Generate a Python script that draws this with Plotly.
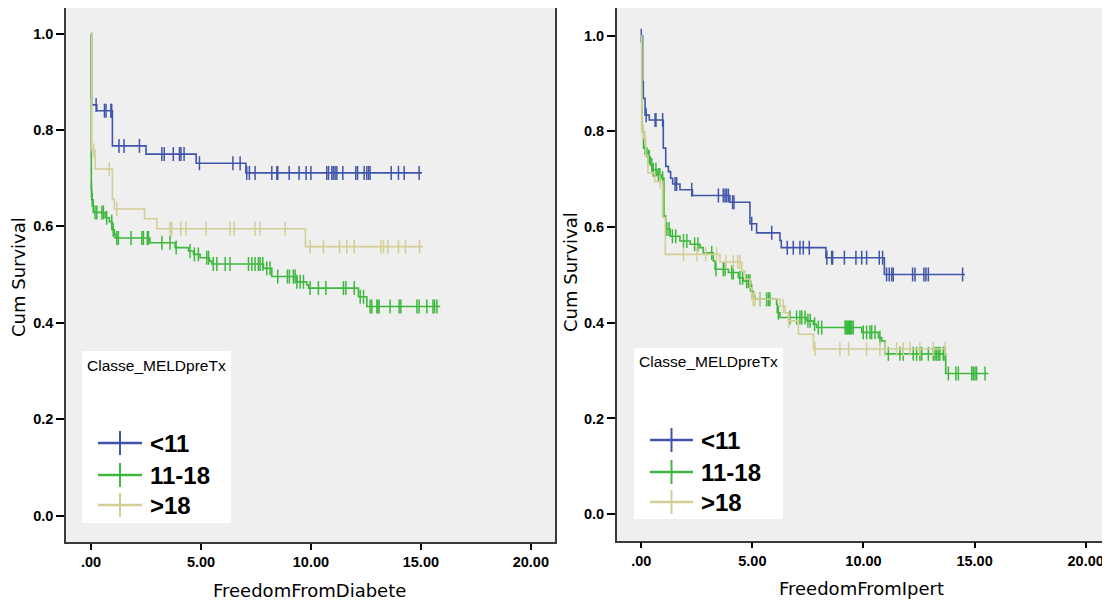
import plotly.graph_objects as go

# page body adds an 8px margin; the figure is sized and positioned to compensate
OFF = 8
W, H = 1110 - OFF, 602 - OFF

# ---------------- data ----------------
series_names = ["<11", "11-18", ">18"]
series_colors = ["#4055AA", "#3CB93C", "#D3CE96"]

# Left panel: FreedomFromDiabete  (event times / survival after step, end of follow-up, censor times)
diab_lt11_t = [0, 0.02, 0.03, 0.26, 0.97, 2.50, 4.78, 7.04]
diab_lt11_s = [1.0, 0.866, 0.852, 0.840, 0.767, 0.750, 0.731, 0.711]
diab_lt11_end = 15.05
diab_lt11_c = [0.23, 0.61, 0.68, 0.90, 0.94, 1.27, 1.50, 2.20, 3.22, 3.33, 3.74, 4.02, 4.09, 4.23,
               4.93, 6.45, 6.78, 7.08, 7.20, 7.46, 8.22, 8.45, 8.49, 9.01, 9.46, 9.78, 10.0,
               10.72, 10.80, 10.95, 11.02, 11.10, 11.18, 11.45, 12.04, 12.12, 12.42, 12.54,
               12.62, 12.69, 13.65, 13.98, 14.24, 14.92]

diab_1118_t = [0, 0.01, 0.03, 0.10, 0.64, 0.83, 0.95, 1.06, 1.09, 2.68, 3.82, 4.43, 4.66, 4.96,
               5.38, 5.49, 7.84, 8.22, 9.36, 9.81, 9.89, 12.16, 12.54]
diab_1118_s = [1.0, 0.676, 0.655, 0.629, 0.618, 0.610, 0.593, 0.584, 0.576, 0.566, 0.556, 0.549,
               0.542, 0.535, 0.528, 0.522, 0.513, 0.496, 0.485, 0.479, 0.472, 0.454, 0.434]
diab_1118_end = 15.88
diab_1118_c = [0.02, 0.05, 0.18, 0.26, 0.49, 0.56, 0.71, 0.94, 1.01, 1.17, 1.24, 1.82, 2.31, 2.38,
               2.56, 2.61, 3.22, 3.59, 3.87, 4.50, 4.70, 4.88, 5.26, 5.34, 5.56, 5.72, 6.10, 6.32,
               7.16, 7.31, 7.46, 7.61, 7.69, 7.81, 7.99, 8.14, 8.49, 8.93, 9.02, 9.20, 9.28, 9.36,
               9.51, 9.66, 9.96, 10.34, 10.68, 11.48, 11.59, 11.97, 12.24, 12.39, 12.69, 12.77,
               13.00, 13.04, 13.10, 13.60, 14.01, 14.09, 14.82, 14.92, 15.27, 15.55, 15.62, 15.73]

diab_gt18_t = [0, 0.03, 0.18, 0.97, 1.06, 2.43, 2.99, 9.75]
diab_gt18_s = [1.0, 0.758, 0.719, 0.656, 0.636, 0.616, 0.595, 0.558]
diab_gt18_end = 15.09
diab_gt18_c = [0.12, 0.83, 1.17, 3.59, 3.67, 4.08, 4.32, 5.23, 6.32, 6.51, 7.46, 7.69, 8.83,
               9.96, 10.57, 11.30, 11.63, 11.97, 13.18, 13.30, 13.50, 13.98, 14.30, 14.94]

# Right panel: FreedomFromIpert
ipert_lt11_t = [0, 0.06, 0.09, 0.17, 0.36, 0.99, 1.10, 1.22, 1.32, 1.41, 1.74, 2.30, 3.99,
                4.89, 5.19, 6.24, 6.30, 8.31, 10.94]
ipert_lt11_s = [1.0, 0.904, 0.869, 0.834, 0.824, 0.765, 0.727, 0.716, 0.702, 0.690, 0.678,
                0.666, 0.652, 0.607, 0.588, 0.572, 0.557, 0.536, 0.501]
ipert_lt11_end = 14.57
ipert_lt11_c = [0.0, 0.22, 0.62, 0.66, 0.96, 1.52, 1.59, 2.27, 3.47, 3.69, 3.77, 3.84, 3.92,
                4.11, 4.17, 4.97, 5.87, 6.57, 6.84, 7.14, 7.29, 7.56, 8.35, 8.57, 8.61, 9.14,
                9.66, 9.92, 10.14, 10.71, 10.86, 11.04, 11.16, 11.27, 11.34, 12.21, 12.32,
                12.72, 12.81, 12.92, 14.46]

ipert_1118_t = [0, 0.02, 0.10, 0.25, 0.40, 0.50, 0.70, 0.90, 1.02, 1.10, 1.30, 1.74, 2.20,
                2.64, 2.79, 3.24, 3.32, 3.92, 4.37, 4.59, 4.92, 5.04, 5.12, 6.09, 6.12, 6.24,
                7.44, 7.74, 7.89, 9.92, 10.67, 10.82, 10.97, 13.70]
ipert_1118_s = [1.0, 0.800, 0.765, 0.747, 0.730, 0.720, 0.709, 0.702, 0.623, 0.596, 0.581,
                0.571, 0.564, 0.557, 0.546, 0.529, 0.512, 0.505, 0.494, 0.487, 0.466, 0.456,
                0.449, 0.439, 0.421, 0.411, 0.404, 0.397, 0.390, 0.380, 0.369, 0.362, 0.335,
                0.294]
ipert_1118_end = 15.62
ipert_1118_c = [0.17, 0.31, 0.36, 0.47, 0.54, 0.66, 0.77, 0.84, 0.96, 1.15, 1.25, 1.40, 1.55,
                1.90, 2.05, 2.40, 2.55, 3.17, 3.36, 3.69, 3.77, 4.07, 4.14, 4.44, 4.56, 4.74,
                4.82, 4.89, 4.97, 5.34, 5.64, 5.72, 5.79, 6.17, 6.69, 6.99, 7.14, 7.22, 7.37,
                7.50, 7.60, 7.80, 7.97, 8.12, 9.17, 9.22, 9.27, 9.32, 9.37, 9.42, 9.47, 9.54,
                9.99, 10.14, 10.29, 10.37, 10.52, 10.74, 11.12, 11.64, 11.79, 12.24, 12.39,
                12.54, 12.62, 12.92, 13.14, 13.22, 13.29, 13.37, 13.44, 13.59, 13.67, 13.82,
                14.16, 14.27, 14.87, 14.94, 15.02, 15.09, 15.47]

ipert_gt18_t = [0, 0.02, 0.13, 0.20, 0.30, 0.60, 0.96, 1.08, 3.54, 4.52, 4.67, 4.89, 4.97,
                6.24, 6.47, 6.62, 7.07, 7.75]
ipert_gt18_s = [1.0, 0.800, 0.786, 0.750, 0.713, 0.695, 0.620, 0.543, 0.527, 0.508, 0.491,
                0.473, 0.449, 0.435, 0.421, 0.404, 0.376, 0.345]
ipert_gt18_end = 13.74
ipert_gt18_c = [0.09, 0.17, 0.84, 1.90, 2.50, 2.90, 3.39, 3.81, 4.14, 4.34, 4.44, 5.04, 5.12,
                5.34, 6.39, 6.64, 7.82, 8.94, 9.33, 10.14, 10.74, 10.97, 11.49, 11.79, 12.09,
                12.54, 13.14, 13.67]

x_tickvals = [0, 5, 10, 15, 20]
x_ticktext = [".00", "5.00", "10.00", "15.00", "20.00"]
y_tickvals = [0.0, 0.2, 0.4, 0.6, 0.8, 1.0]
y_ticktext = ["0.0", "0.2", "0.4", "0.6", "0.8", "1.0"]

legend_title = "Classe_MELDpreTx"
y_title = "Cum Survival"
x_titles = ["FreedomFromDiabete", "FreedomFromIpert"]

# ---------------- helpers ----------------
def surv_at(ts, ss, c):
    v = ss[0]
    for t, s in zip(ts, ss):
        if t <= c:
            v = s
        else:
            break
    return v

def px(x):
    return (x - OFF) / W

def py(y):
    return 1 - (y - OFF) / H

fig = go.Figure()

panels = [
    ("x", "y", [(diab_lt11_t, diab_lt11_s, diab_lt11_end, diab_lt11_c),
                (diab_1118_t, diab_1118_s, diab_1118_end, diab_1118_c),
                (diab_gt18_t, diab_gt18_s, diab_gt18_end, diab_gt18_c)]),
    ("x2", "y2", [(ipert_lt11_t, ipert_lt11_s, ipert_lt11_end, ipert_lt11_c),
                  (ipert_1118_t, ipert_1118_s, ipert_1118_end, ipert_1118_c),
                  (ipert_gt18_t, ipert_gt18_s, ipert_gt18_end, ipert_gt18_c)]),
]

for xa, ya, groups in panels:
    for (ts, ss, end, cens), name, col in zip(groups, series_names, series_colors):
        fig.add_trace(go.Scatter(
            x=list(ts) + [end], y=list(ss) + [ss[-1]], mode="lines",
            line=dict(color=col, width=1.6, shape="hv"),
            xaxis=xa, yaxis=ya, name=name, showlegend=False, hoverinfo="skip"))
        fig.add_trace(go.Scatter(
            x=cens, y=[surv_at(ts, ss, c) for c in cens], mode="markers",
            marker=dict(symbol="line-ns-open", size=10, color=col,
                        line=dict(color=col, width=1.5)),
            xaxis=xa, yaxis=ya, name=name, showlegend=False, hoverinfo="skip"))

tickfont = dict(family="Liberation Sans, Arial", size=14.5, color="black", weight="bold")
axis_common = dict(showline=True, mirror=True, linecolor="#3a3a3a", linewidth=1.5,
                   showgrid=False, zeroline=False, ticks="outside", tickcolor="black",
                   tickwidth=1.5, tickfont=tickfont, automargin=False)

fig.update_layout(
    width=W, height=H,
    margin=dict(l=0, r=0, t=0, b=0, autoexpand=False),
    paper_bgcolor="white", plot_bgcolor="#EFEFEF",
    showlegend=False,
    xaxis=dict(domain=[px(66), px(555)], range=[-1.14, 21.1], anchor="y",
               tickvals=x_tickvals, ticktext=x_ticktext, ticklen=6, **axis_common),
    yaxis=dict(domain=[py(542), py(8)], range=[-0.0546, 1.053], anchor="x",
               tickvals=y_tickvals, ticktext=y_ticktext, ticklen=8, **axis_common),
    xaxis2=dict(domain=[px(616.7), min(1.0, px(1109))], range=[-1.107, 21.05], anchor="y2",
                tickvals=x_tickvals, ticktext=x_ticktext, ticklen=6, **axis_common),
    yaxis2=dict(domain=[py(540.7), py(5.7) if py(5.7) <= 1 else 1.0], range=[-0.0556, 1.058],
                anchor="x2", tickvals=y_tickvals, ticktext=y_ticktext, ticklen=8, **axis_common),
)

title_font = dict(family="DejaVu Sans", size=18, color="black")
annotations = [
    dict(x=px(18), y=py(277), text=y_title, textangle=-90, showarrow=False,
         xanchor="center", yanchor="middle", xref="paper", yref="paper", font=title_font),
    dict(x=px(570), y=py(272), text=y_title, textangle=-90, showarrow=False,
         xanchor="center", yanchor="middle", xref="paper", yref="paper", font=title_font),
    dict(x=px(309), y=py(590), text=x_titles[0], showarrow=False,
         xanchor="center", yanchor="middle", xref="paper", yref="paper", font=title_font),
    dict(x=px(861), y=py(588), text=x_titles[1], showarrow=False,
         xanchor="center", yanchor="middle", xref="paper", yref="paper", font=title_font),
]
shapes = []

legends = [
    # box x0, x1, y0, y1, title y, title x, line x0, line x1, text x, item ys
    (82, 231, 351, 523, 365, 85, 98, 142, 148, [443, 475, 505]),
    (634, 783, 348, 519, 362, 637, 650, 693, 699, [440, 472, 502]),
]
for bx0, bx1, by0, by1, ty, tx, lx0, lx1, txx, ys in legends:
    shapes.append(dict(type="rect", xref="paper", yref="paper",
                       x0=px(bx0), x1=px(bx1), y0=py(by1), y1=py(by0),
                       fillcolor="white", line=dict(width=0), layer="above"))
    annotations.append(dict(x=px(tx), y=py(ty), text=legend_title, showarrow=False,
                            xanchor="left", yanchor="middle", xref="paper", yref="paper",
                            font=dict(family="Liberation Sans, Arial", size=15.5, color="black")))
    for name, col, yy in zip(series_names, series_colors, ys):
        shapes.append(dict(type="line", xref="paper", yref="paper",
                           x0=px(lx0), x1=px(lx1), y0=py(yy), y1=py(yy),
                           line=dict(color=col, width=2.5), layer="above"))
        xm = (lx0 + lx1) / 2
        shapes.append(dict(type="line", xref="paper", yref="paper",
                           x0=px(xm), x1=px(xm), y0=py(yy - 12), y1=py(yy + 12),
                           line=dict(color=col, width=2), layer="above"))
        annotations.append(dict(x=px(txx), y=py(yy), text=name, showarrow=False,
                                xanchor="left", yanchor="middle", xref="paper", yref="paper",
                                font=dict(family="Liberation Sans, Arial", size=24,
                                          color="black", weight="bold")))

fig.update_layout(annotations=annotations, shapes=shapes)
fig.write_html("out.html")
